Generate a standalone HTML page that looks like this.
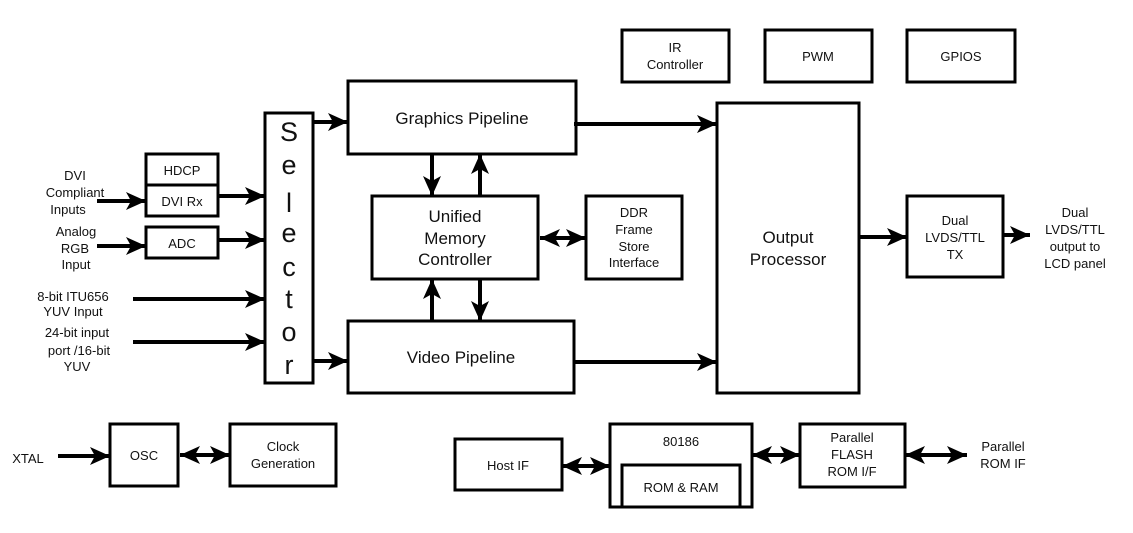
<!DOCTYPE html>
<html><head><meta charset="utf-8"><style>
html,body{margin:0;padding:0;background:#fff;}
svg{display:block;}
text{font-family:"Liberation Sans",Arial,sans-serif;fill:#111;text-anchor:middle;}
</style></head><body>
<svg width="1133" height="533" viewBox="0 0 1133 533" xmlns="http://www.w3.org/2000/svg">
<defs>
<marker id="a" markerUnits="userSpaceOnUse" markerWidth="22" markerHeight="20" refX="20" refY="10" orient="auto-start-reverse">
<path d="M0,1 L20,10 L0,19 L5,10 z" fill="#000"/>
</marker>
</defs>
<g fill="none" stroke="#000" stroke-width="3">
<rect x="265" y="113" width="48" height="270"/>
<rect x="146" y="154" width="72" height="31"/>
<rect x="146" y="185" width="72" height="31"/>
<rect x="146" y="227" width="72" height="31"/>
<rect x="348" y="81" width="228" height="73"/>
<rect x="372" y="196" width="166" height="83"/>
<rect x="586" y="196" width="96" height="83"/>
<rect x="348" y="321" width="226" height="72"/>
<rect x="717" y="103" width="142" height="290"/>
<rect x="622" y="30" width="107" height="52"/>
<rect x="765" y="30" width="107" height="52"/>
<rect x="907" y="30" width="108" height="52"/>
<rect x="907" y="196" width="96" height="81"/>
<rect x="110" y="424" width="68" height="62"/>
<rect x="230" y="424" width="106" height="62"/>
<rect x="455" y="439" width="107" height="51"/>
<rect x="610" y="424" width="142" height="83"/>
<rect x="622" y="465" width="118" height="42"/>
<rect x="800" y="424" width="105" height="63"/>
</g>
<g stroke="#000" stroke-width="4" marker-end="url(#a)">
<line x1="97" y1="201" x2="146" y2="201"/>
<line x1="97" y1="246" x2="146" y2="246"/>
<line x1="218" y1="196" x2="265" y2="196"/>
<line x1="218" y1="240" x2="265" y2="240"/>
<line x1="133" y1="299" x2="265" y2="299"/>
<line x1="133" y1="342" x2="265" y2="342"/>
<line x1="313" y1="122" x2="348" y2="122"/>
<line x1="313" y1="361" x2="348" y2="361"/>
<line x1="432" y1="154" x2="432" y2="196"/>
<line x1="480" y1="196" x2="480" y2="154"/>
<line x1="432" y1="321" x2="432" y2="279"/>
<line x1="480" y1="279" x2="480" y2="321"/>
<line x1="540" y1="238" x2="586" y2="238" marker-start="url(#a)"/>
<line x1="574" y1="124" x2="717" y2="124"/>
<line x1="574" y1="362" x2="717" y2="362"/>
<line x1="859" y1="237" x2="907" y2="237"/>
<line x1="1003" y1="235" x2="1030" y2="235"/>
<line x1="58" y1="456" x2="110" y2="456"/>
<line x1="180" y1="455" x2="230" y2="455" marker-start="url(#a)"/>
<line x1="562" y1="466" x2="610" y2="466" marker-start="url(#a)"/>
<line x1="752" y1="455" x2="800" y2="455" marker-start="url(#a)"/>
<line x1="905" y1="455" x2="967" y2="455" marker-start="url(#a)"/>
</g>
<g font-size="13">
<text x="75" y="180">DVI</text>
<text x="75" y="197">Compliant</text>
<text x="68" y="214">Inputs</text>
<text x="76" y="236">Analog</text>
<text x="75" y="253">RGB</text>
<text x="76" y="269">Input</text>
<text x="73" y="301">8-bit ITU656</text>
<text x="73" y="316">YUV Input</text>
<text x="77" y="337">24-bit input</text>
<text x="79" y="355">port /16-bit</text>
<text x="77" y="371">YUV</text>
<text x="182" y="175">HDCP</text>
<text x="182" y="206">DVI Rx</text>
<text x="182" y="248">ADC</text>
<text x="675" y="52">IR</text>
<text x="675" y="69">Controller</text>
<text x="818" y="61">PWM</text>
<text x="961" y="61">GPIOS</text>
<text x="634" y="217">DDR</text>
<text x="634" y="234">Frame</text>
<text x="634" y="251">Store</text>
<text x="634" y="267">Interface</text>
<text x="955" y="225">Dual</text>
<text x="955" y="242">LVDS/TTL</text>
<text x="955" y="259">TX</text>
<text x="1075" y="217">Dual</text>
<text x="1075" y="234">LVDS/TTL</text>
<text x="1075" y="251">output  to</text>
<text x="1075" y="268">LCD panel</text>
<text x="28" y="463">XTAL</text>
<text x="144" y="460">OSC</text>
<text x="283" y="451">Clock</text>
<text x="283" y="468">Generation</text>
<text x="508" y="470">Host IF</text>
<text x="681" y="446">80186</text>
<text x="681" y="492">ROM &amp; RAM</text>
<text x="852" y="442">Parallel</text>
<text x="852" y="459">FLASH</text>
<text x="852" y="476">ROM I/F</text>
<text x="1003" y="451">Parallel</text>
<text x="1003" y="468">ROM IF</text>
</g>
<g font-size="17">
<text x="462" y="124">Graphics Pipeline</text>
<text x="461" y="363">Video Pipeline</text>
<text x="455" y="222">Unified</text>
<text x="455" y="244">Memory</text>
<text x="455" y="265">Controller</text>
<text x="788" y="243">Output</text>
<text x="788" y="265">Processor</text>
</g>
<g font-size="27">
<text x="289" y="141">S</text>
<text x="289" y="174">e</text>
<text x="289" y="212">l</text>
<text x="289" y="242">e</text>
<text x="289" y="276">c</text>
<text x="289" y="308">t</text>
<text x="289" y="341">o</text>
<text x="289" y="374">r</text>
</g>
</svg>
</body></html>
